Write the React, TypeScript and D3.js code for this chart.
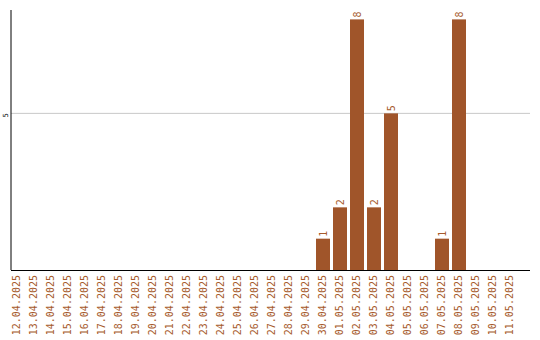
import React from "react";
import * as d3 from "d3";

const categories: string[] = [
  "12.04.2025", "13.04.2025", "14.04.2025", "15.04.2025", "16.04.2025",
  "17.04.2025", "18.04.2025", "19.04.2025", "20.04.2025", "21.04.2025",
  "22.04.2025", "23.04.2025", "24.04.2025", "25.04.2025", "26.04.2025",
  "27.04.2025", "28.04.2025", "29.04.2025", "30.04.2025", "01.05.2025",
  "02.05.2025", "03.05.2025", "04.05.2025", "05.05.2025", "06.05.2025",
  "07.05.2025", "08.05.2025", "09.05.2025", "10.05.2025", "11.05.2025",
];
const values: number[] = [
  0, 0, 0, 0, 0, 0, 0, 0, 0, 0,
  0, 0, 0, 0, 0, 0, 0, 0, 1, 2,
  8, 2, 5, 0, 0, 1, 8, 0, 0, 0,
];
const yTicks: number[] = [5];

const W = 540;
const H = 340;
const BAR = "#A0552A";
const TXT = "#A65A2C";
const FONT = "'DejaVu Sans Mono', 'Liberation Mono', monospace";

export default function App() {
  const left = 11;
  const right = 530;
  const top = 10;
  const bottom = 270;

  const x = d3
    .scaleBand<string>()
    .domain(categories)
    .range([8.5, 518.5])
    .paddingInner(3 / 17)
    .paddingOuter(3 / 34);
  const y = d3.scaleLinear().domain([0, 8.3]).range([bottom, top]);

  return (
    <svg
      width={W}
      height={H}
      style={{ position: "absolute", left: 0, top: 0, background: "#fff" }}
    >
      {yTicks.map((t) => (
        <g key={t}>
          <line x1={left} x2={right} y1={y(t)} y2={y(t)} stroke="#c8c8c8" strokeWidth={1} />
          <text
            transform={`translate(6,${y(t) + 2}) rotate(-90)`}
            textAnchor="middle"
            dy="0.35em"
            fontFamily={FONT}
            fontSize={7}
            fill="#000"
          >
            {t}
          </text>
        </g>
      ))}
      {categories.map((c, i) => {
        const v = values[i];
        if (!v) return null;
        const bx = x(c)!;
        return (
          <g key={c}>
            <rect x={bx} y={y(v)} width={x.bandwidth()} height={y(0) - y(v)} fill={BAR} />
            <text
              transform={`translate(${bx + x.bandwidth() / 2},${y(v) - 2}) rotate(-90)`}
              textAnchor="start"
              dy="0.35em"
              fontFamily={FONT}
              fontSize={10}
              fill={TXT}
            >
              {v}
            </text>
          </g>
        );
      })}
      <line x1={left} x2={left} y1={top} y2={bottom} stroke="#000" strokeWidth={1} />
      <line x1={left} x2={right} y1={bottom + 0.5} y2={bottom + 0.5} stroke="#000" strokeWidth={1.2} />
      {categories.map((c) => (
        <text
          key={c}
          transform={`translate(${x(c)! + x.bandwidth() / 2 - 1},${bottom + 5}) rotate(-90)`}
          textAnchor="end"
          dy="0.35em"
          fontFamily={FONT}
          fontSize={10}
          fill={TXT}
        >
          {c}
        </text>
      ))}
    </svg>
  );
}
